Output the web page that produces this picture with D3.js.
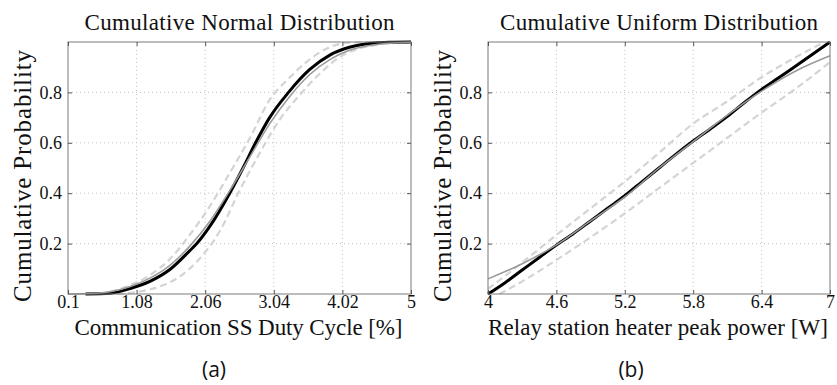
<!DOCTYPE html>
<html><head><meta charset="utf-8">
<script src="https://cdn.jsdelivr.net/npm/d3@7"></script>
<style>
html,body{margin:0;padding:0;background:#fff;}
</style></head>
<body><svg id="c" width="837" height="385"></svg>
<script>
// ---- Panel (a): Cumulative Normal Distribution ----
const aTitle = "Cumulative Normal Distribution";
const aXLabel = "Communication SS Duty Cycle [%]";
const aXTicks = [0.1, 1.08, 2.06, 3.04, 4.02, 5];
const aEmpX = [0.35,0.70,0.99,1.27,1.56,1.84,1.94,2.13,2.41,2.60,2.78,2.98,3.25,3.55,3.84,4.12,4.41,4.70,5.0];
const aEmpY = [0.0,0.003,0.022,0.05,0.098,0.172,0.20,0.27,0.40,0.50,0.60,0.70,0.80,0.89,0.948,0.979,0.994,0.999,1.0];
const aFitX = [0.1,0.41,0.70,0.99,1.27,1.56,1.84,2.13,2.41,2.70,2.98,3.27,3.55,3.84,4.12,4.41,4.70,5.0];
const aFitY = [0.0,0.002,0.009,0.03,0.063,0.115,0.19,0.29,0.41,0.545,0.675,0.785,0.87,0.93,0.967,0.986,0.995,0.999];
const aUpX = [0.55,0.99,1.27,1.56,1.84,2.13,2.41,2.70,2.98,3.27,3.55,3.84,4.12,4.50,5.0];
const aUpY = [0.0,0.035,0.075,0.14,0.235,0.35,0.48,0.62,0.77,0.86,0.93,0.98,0.997,1.0,1.0];
const aLoX = [0.80,1.13,1.41,1.70,1.98,2.27,2.55,2.84,3.12,3.41,3.70,3.98,4.27,4.55,5.0];
const aLoY = [0.0,0.01,0.03,0.07,0.14,0.25,0.41,0.56,0.69,0.79,0.875,0.94,0.975,0.99,1.0];

// ---- Panel (b): Cumulative Uniform Distribution ----
const bTitle = "Cumulative Uniform Distribution";
const bXLabel = "Relay station heater peak power [W]";
const bXTicks = [4, 4.6, 5.2, 5.8, 6.4, 7];
const bEmpX = [4.0,4.15,4.3,4.45,4.6,4.75,4.9,5.05,5.2,5.35,5.5,5.65,5.8,5.95,6.1,6.25,6.4,6.55,6.7,6.85,7.0];
const bEmpY = [0.0,0.045,0.095,0.145,0.194,0.24,0.29,0.34,0.39,0.445,0.50,0.555,0.607,0.655,0.705,0.76,0.812,0.858,0.905,0.952,1.0];
const bFitX = [4.0,4.3,4.6,4.9,5.2,5.5,5.8,6.1,6.4,6.7,7.0];
const bFitY = [0.06,0.12,0.195,0.29,0.385,0.50,0.605,0.71,0.805,0.885,0.945];
const bUpX = [4.0,4.3,4.6,4.9,5.2,5.5,5.8,6.1,6.4,6.7,6.95];
const bUpY = [0.02,0.125,0.234,0.34,0.446,0.56,0.676,0.765,0.86,0.94,1.0];
const bLoX = [4.1,4.3,4.6,4.9,5.2,5.5,5.8,6.1,6.4,6.7,7.0];
const bLoY = [0.0,0.05,0.135,0.225,0.32,0.42,0.52,0.62,0.72,0.815,0.92];

const yTicks = [0.2, 0.4, 0.6, 0.8];
const yLabel = "Cumulative Probability";
const captions = ["(a)", "(b)"];

const SERIF = "'Liberation Serif', 'Times New Roman', serif";
const SANS = "'Open Sans', 'Noto Sans', sans-serif";
const svg = d3.select("#c");

function panel(o){
  const g = svg.append("g");
  const x = d3.scaleLinear().domain(o.xDomain).range([o.left, o.right]);
  const y = d3.scaleLinear().domain([0,1]).range([o.bottom, o.top]);
  // grid
  g.append("g").selectAll("line").data(o.xTicks.slice(1,-1)).join("line")
    .attr("x1",d=>x(d)).attr("x2",d=>x(d)).attr("y1",o.top).attr("y2",o.bottom)
    .attr("stroke","#c4c4c4").attr("stroke-width",1).attr("stroke-dasharray","1,3");
  g.append("g").selectAll("line").data(yTicks).join("line")
    .attr("y1",d=>y(d)).attr("y2",d=>y(d)).attr("x1",o.left).attr("x2",o.right)
    .attr("stroke","#c4c4c4").attr("stroke-width",1).attr("stroke-dasharray","1,3");
  // lines
  const line = d3.line().x(d=>x(d[0])).y(d=>y(d[1])).curve(d3.curveMonotoneX);
  const zip = (a,b)=>a.map((v,i)=>[v,b[i]]);
  g.append("path").attr("d",line(zip(o.upX,o.upY))).attr("fill","none")
    .attr("stroke","#d4d4d4").attr("stroke-width",2.2).attr("stroke-dasharray","7,4");
  g.append("path").attr("d",line(zip(o.loX,o.loY))).attr("fill","none")
    .attr("stroke","#d4d4d4").attr("stroke-width",2.2).attr("stroke-dasharray","7,4");
  g.append("path").attr("d",line(zip(o.empX,o.empY))).attr("fill","none")
    .attr("stroke","#000").attr("stroke-width",3);
  g.append("path").attr("d",line(zip(o.fitX,o.fitY))).attr("fill","none")
    .attr("stroke","#9a9a9a").attr("stroke-width",1.6);
  // box
  g.append("rect").attr("x",o.left).attr("y",o.top).attr("width",o.right-o.left)
    .attr("height",o.bottom-o.top).attr("fill","none").attr("stroke","#7a7a7a").attr("stroke-width",1);
  // axes (inward ticks)
  const xa = d3.axisBottom(x).tickValues(o.xTicks).tickSize(-4).tickPadding(1).tickFormat(d=>String(d));
  const ax = g.append("g").attr("transform",`translate(0,${o.bottom})`).call(xa);
  const ya = d3.axisLeft(y).tickValues(yTicks).tickSize(-4).tickPadding(6).tickFormat(d=>String(d));
  const ay = g.append("g").attr("transform",`translate(${o.left},0)`).call(ya);
  const xt = d3.axisTop(x).tickValues(o.xTicks).tickSize(-4).tickFormat("");
  const axt = g.append("g").attr("transform",`translate(0,${o.top})`).call(xt);
  const yr = d3.axisRight(y).tickValues(yTicks).tickSize(-4).tickFormat("");
  const ayr = g.append("g").attr("transform",`translate(${o.right},0)`).call(yr);
  [ax,ay,axt,ayr].forEach(a=>{
    a.attr("font-family",null).attr("font-size",null);
    a.select(".domain").remove();
    a.selectAll(".tick line").attr("stroke","#555");
    a.selectAll("text").style("font-family",SERIF).style("font-size","18px").attr("fill","#111");
  });
  // labels
  g.append("text").style("font-family",SERIF).style("font-size","23px").attr("fill","#111")
    .attr("x",(o.left+o.right)/2).attr("y",30).attr("text-anchor","middle")
    .attr("textLength",o.titleLen).attr("lengthAdjust","spacing").text(o.title);
  g.append("text").style("font-family",SERIF).style("font-size","23px").attr("fill","#111")
    .attr("x",(o.left+o.right)/2-1).attr("y",335).attr("text-anchor","middle")
    .attr("textLength",o.xLen).attr("lengthAdjust","spacing").text(o.xLabel);
  g.append("text").style("font-family",SERIF).style("font-size","25px").attr("fill","#111")
    .attr("transform",`translate(${o.yLabelX},176) rotate(-90)`).attr("text-anchor","middle")
    .attr("textLength",252).attr("lengthAdjust","spacing").text(yLabel);
  g.append("text").style("font-family",SANS).style("font-size","21px").attr("fill","#111")
    .attr("x",o.capX).attr("y",377).attr("text-anchor","middle").text(o.caption);
}

panel({left:68,right:411,top:42,bottom:294,xDomain:[0.1,5],xTicks:aXTicks,
  empX:aEmpX,empY:aEmpY,fitX:aFitX,fitY:aFitY,upX:aUpX,upY:aUpY,loX:aLoX,loY:aLoY,
  title:aTitle,titleLen:310,xLabel:aXLabel,xLen:328,yLabelX:31,capX:214,caption:captions[0]});
panel({left:488,right:830,top:42,bottom:294,xDomain:[4,7],xTicks:bXTicks,
  empX:bEmpX,empY:bEmpY,fitX:bFitX,fitY:bFitY,upX:bUpX,upY:bUpY,loX:bLoX,loY:bLoY,
  title:bTitle,titleLen:318,xLabel:bXLabel,xLen:340,yLabelX:451,capX:631,caption:captions[1]});
</script></body></html>
